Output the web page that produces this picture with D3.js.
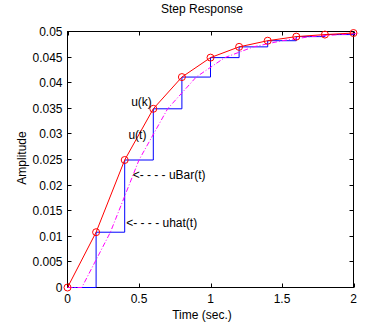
<!DOCTYPE html>
<html><head><meta charset="utf-8">
<script src="https://cdn.jsdelivr.net/npm/d3@7"></script>
<style>
body{margin:0;background:#fff;}
text{font-family:"Liberation Sans",Arial,Helvetica,sans-serif;font-size:12px;fill:#000;}
</style></head><body>
<svg id="c" width="392" height="332"></svg>
<script>
const times = [0, 0.2, 0.4, 0.6, 0.8, 1.0, 1.2, 1.4, 1.6, 1.8, 2.0];
const uk = [0, 0.0108, 0.0249, 0.0349, 0.0411, 0.0449, 0.0470, 0.0482, 0.0490, 0.0494, 0.0497];
const holdDelay = 0.1;
const xTicks = [0, 0.5, 1, 1.5, 2];
const xTickLabels = ["0", "0.5", "1", "1.5", "2"];
const yTicks = [0, 0.005, 0.01, 0.015, 0.02, 0.025, 0.03, 0.035, 0.04, 0.045, 0.05];
const yTickLabels = ["0", "0.005", "0.01", "0.015", "0.02", "0.025", "0.03", "0.035", "0.04", "0.045", "0.05"];
const annotations = [
  {label: "u(k)", t: 0.59, v: 0.0355, anchor: "end", arrow: false},
  {label: "u(t)", t: 0.552, v: 0.0290, anchor: "end", arrow: false},
  {label: "uBar(t)", t: 0.456, v: 0.0212, anchor: "start", arrow: true},
  {label: "uhat(t)", t: 0.411, v: 0.0119, anchor: "start", arrow: true}
];
const titleText = "Step Response";
const xLabel = "Time (sec.)";
const yLabel = "Amplitude";

const svg = d3.select("#c");
const L = 67.5, R = 353.5, T = 31.5, B = 287.5;
const x = d3.scaleLinear().domain([0, 2]).range([L, R]);
const y = d3.scaleLinear().domain([0, 0.05]).range([B, T]);

svg.append("defs").append("clipPath").attr("id","clip")
  .append("rect").attr("x", L).attr("y", T - 5).attr("width", R - L + 5).attr("height", B - T + 10);

// box
svg.append("rect").attr("x", L).attr("y", T).attr("width", R - L).attr("height", B - T)
  .attr("fill", "none").attr("stroke", "#000").attr("stroke-width", 1);

// ticks (inward)
const tl = 4;
xTicks.forEach((t, i) => {
  const px = Math.round(x(t)) + 0.5;
  svg.append("line").attr("x1", px).attr("x2", px).attr("y1", B).attr("y2", B - tl).attr("stroke", "#000");
  svg.append("line").attr("x1", px).attr("x2", px).attr("y1", T).attr("y2", T + tl).attr("stroke", "#000");
  svg.append("text").attr("x", x(t)).attr("y", B + 15).attr("text-anchor", "middle").text(xTickLabels[i]);
});
yTicks.forEach((v, i) => {
  const py = Math.round(y(v) - 0.5) + 0.5;
  svg.append("line").attr("x1", L).attr("x2", L + tl).attr("y1", py).attr("y2", py).attr("stroke", "#000");
  svg.append("line").attr("x1", R).attr("x2", R - tl).attr("y1", py).attr("y2", py).attr("stroke", "#000");
  svg.append("text").attr("x", L - 5).attr("y", y(v) + 4.5).attr("text-anchor", "end").text(yTickLabels[i]);
});

const g = svg.append("g").attr("clip-path", "url(#clip)");

// uBar(t): zero-order hold of u(k)
const stairs = [];
times.forEach((t, i) => {
  stairs.push([t, uk[i]]);
  if (i < times.length - 1) stairs.push([times[i + 1], uk[i]]);
});
g.append("path").datum(stairs)
  .attr("d", d3.line().x(d => x(d[0])).y(d => y(d[1])))
  .attr("fill", "none").attr("stroke", "#0000ff").attr("stroke-width", 1);

// uhat(t): u(k) delayed by half a sample
const shifted = [[0, 0]].concat(times.map((t, i) => [t + holdDelay, uk[i]]));
g.append("path").datum(shifted)
  .attr("d", d3.line().x(d => x(d[0])).y(d => y(d[1])))
  .attr("fill", "none").attr("stroke", "#ff00ff").attr("stroke-width", 1)
  .attr("stroke-dasharray", "5,2,1,2");

// u(k) line + circles
const pts = times.map((t, i) => [t, uk[i]]);
svg.append("path").datum(pts)
  .attr("d", d3.line().x(d => x(d[0])).y(d => y(d[1])))
  .attr("fill", "none").attr("stroke", "#ff0000").attr("stroke-width", 1);
svg.selectAll("circle.m").data(pts).enter().append("circle")
  .attr("cx", d => x(d[0])).attr("cy", d => y(d[1])).attr("r", 3.5)
  .attr("fill", "none").attr("stroke", "#ff0000").attr("stroke-width", 1);

// annotations
annotations.forEach(a => {
  const t = svg.append("text").attr("x", x(a.t)).attr("y", y(a.v)).attr("text-anchor", a.anchor);
  if (a.arrow) {
    t.append("tspan").text("<");
    t.append("tspan").style("letter-spacing", "3.3px").text("----");
    t.append("tspan").text(a.label);
  } else {
    t.text(a.label);
  }
});

// title & labels
svg.append("text").attr("x", 202).attr("y", 13).attr("text-anchor", "middle").text(titleText);
svg.append("text").attr("x", 202).attr("y", 319).attr("text-anchor", "middle").text(xLabel);
svg.append("text").attr("transform", "translate(26,158) rotate(-90)").attr("text-anchor", "middle").text(yLabel);
</script></body></html>
